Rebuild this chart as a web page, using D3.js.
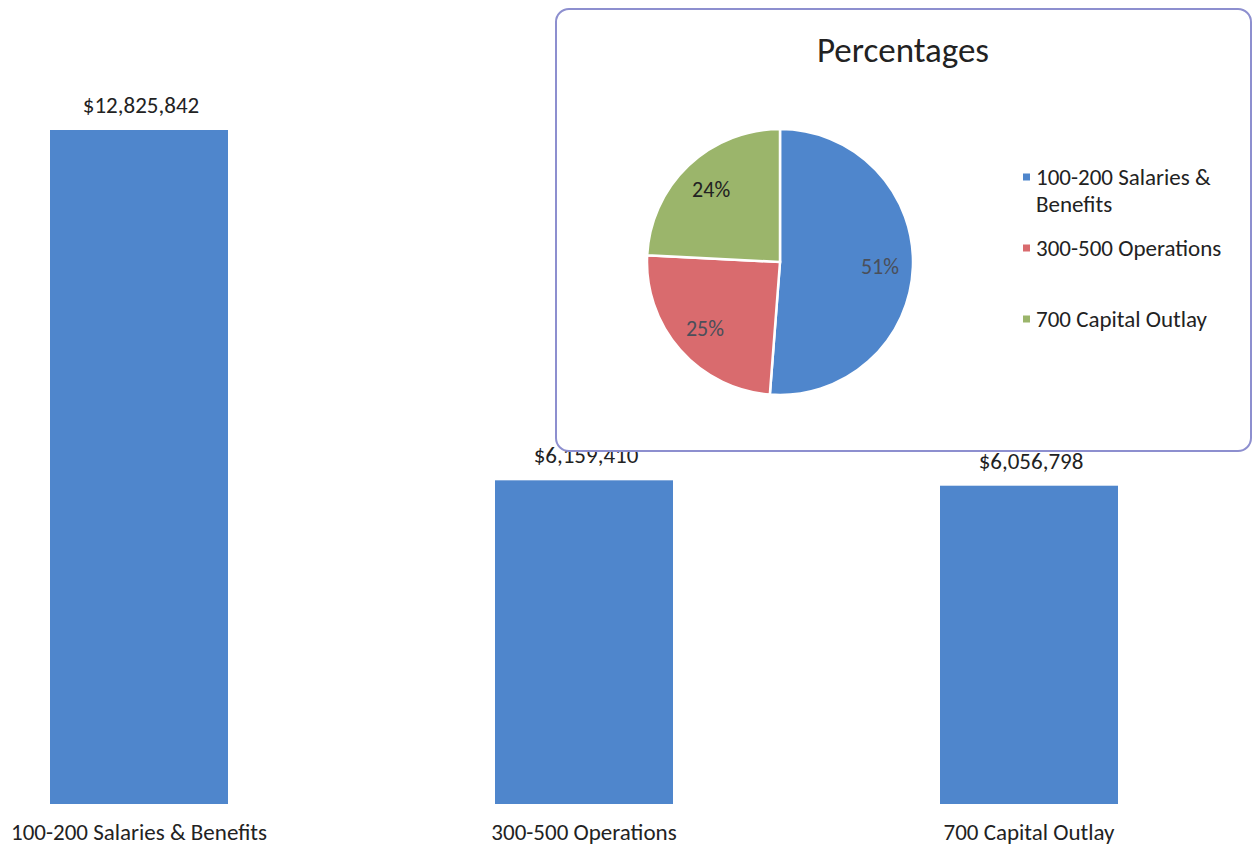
<!DOCTYPE html>
<html>
<head>
<meta charset="utf-8">
<script src="https://cdn.jsdelivr.net/npm/d3@7"></script>
<style>
body { margin: 0; background: #fff; }
text { font-family: Carlito, "Liberation Sans Narrow", "Open Sans", sans-serif; fill: #222; }
</style>
</head>
<body>
<script>
var categories = ["100-200 Salaries & Benefits", "300-500 Operations", "700 Capital Outlay"];
var values = [12825842, 6159410, 6056798];
var legendLines = [["100-200 Salaries &", "Benefits"], ["300-500 Operations"], ["700 Capital Outlay"]];
var colors = ["#4f86cc", "#d96b6e", "#9bb56b"];
var pieTitle = "Percentages";

(function(){
	var svg = d3.select("body").append("svg")
		.attr("width", 1254)
		.attr("height", 850);

	var x = d3.scaleBand()
		.domain(categories)
		.range([-83.5, 1251.5])
		.paddingInner(0.6)
		.paddingOuter(0.3);
	var y = d3.scaleLinear()
		.domain([0, d3.max(values)])
		.range([804, 130]);

	var bars = svg.append("g").classed("bars", true);
	bars.selectAll("rect")
		.data(values)
		.enter().append("rect")
		.attr("x", function(d, i) {return x(categories[i]);})
		.attr("y", function(d) {return y(d);})
		.attr("width", x.bandwidth())
		.attr("height", function(d) {return y(0) - y(d);})
		.style("fill", colors[0]);

	var fmt = d3.format("$,");
	bars.selectAll("text.value")
		.data(values)
		.enter().append("text")
		.classed("value", true)
		.attr("x", function(d, i) {return x(categories[i]) + x.bandwidth() / 2 + 2;})
		.attr("y", function(d) {return y(d) - 17;})
		.attr("text-anchor", "middle")
		.style("font-size", "23px")
		.text(function(d) {return fmt(d);});

	bars.selectAll("text.cat")
		.data(categories)
		.enter().append("text")
		.classed("cat", true)
		.attr("x", function(d) {return x(d) + x.bandwidth() / 2;})
		.attr("y", 840)
		.attr("text-anchor", "middle")
		.style("font-size", "23px")
		.text(function(d) {return d;});

	// pie box on top
	var box = svg.append("g").classed("piebox", true);
	box.append("rect")
		.attr("x", 556)
		.attr("y", 9)
		.attr("width", 695)
		.attr("height", 442)
		.attr("rx", 13)
		.style("fill", "#fff")
		.style("stroke", "#8d8fcf")
		.style("stroke-width", 2);
	box.append("text")
		.attr("x", 903)
		.attr("y", 62)
		.attr("text-anchor", "middle")
		.style("font-size", "35px")
		.text(pieTitle);

	var total = d3.sum(values);
	var pie = d3.pie().sort(null);
	var arc = d3.arc().innerRadius(0).outerRadius(133);
	var labelArc = d3.arc().innerRadius(100).outerRadius(100);
	var pg = box.append("g").attr("transform", "translate(780,262)");
	var slices = pie(values);
	pg.selectAll("path")
		.data(slices)
		.enter().append("path")
		.attr("d", arc)
		.style("fill", function(d, i) {return colors[i];})
		.style("stroke", "#fff")
		.style("stroke-width", 2.5);
	pg.selectAll("text")
		.data(slices)
		.enter().append("text")
		.attr("transform", function(d) {return "translate(" + labelArc.centroid(d) + ")";})
		.attr("dy", "0.35em")
		.attr("text-anchor", "middle")
		.style("font-size", "22px")
		.style("fill", function(d, i) {return i === 2 ? "#222" : "#4a4f5a";})
		.text(function(d) {return Math.round(d.value / total * 100) + "%";});

	var legendY = [177, 248, 319];
	var lg = box.append("g").classed("legend", true);
	legendLines.forEach(function(lines, i) {
		lg.append("rect")
			.attr("x", 1023)
			.attr("y", legendY[i] - 3.5)
			.attr("width", 7)
			.attr("height", 7)
			.style("fill", colors[i]);
		lines.forEach(function(line, j) {
			lg.append("text")
				.attr("x", 1036)
				.attr("y", legendY[i] + j * 27)
				.attr("dy", "0.35em")
				.style("font-size", "23px")
				.text(line);
		});
	});
}());
</script>
</body>
</html>
